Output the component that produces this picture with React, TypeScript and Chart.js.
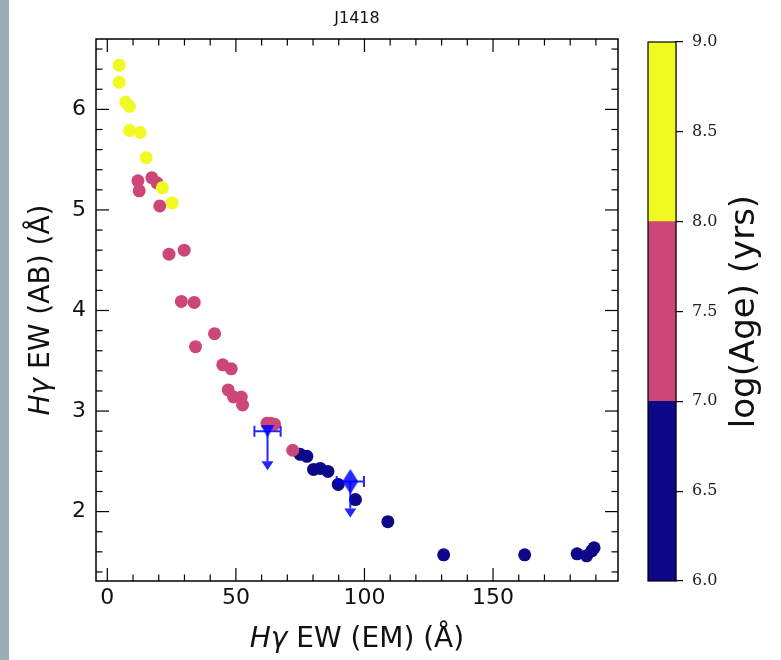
import React, { useEffect, useRef } from "react";
import { Chart, registerables } from "chart.js";

Chart.register(...registerables);

// ---------------- data ----------------
const TITLE = "J1418";
const X_TICKS = [0, 50, 100, 150];
const Y_TICKS = [2, 3, 4, 5, 6];
const X_MIN = -4.4;
const X_MAX = 198.6;
const Y_MIN = 1.31;
const Y_MAX = 6.7;
const X_MINOR_STEP = 10;
const Y_MINOR_STEP = 0.2;

const CB_TICKS = [6.0, 6.5, 7.0, 7.5, 8.0, 8.5, 9.0];
const CB_BOUNDS = [6, 7, 8, 9];
const CB_COLORS = ["#0d0887", "#cc4778", "#f0f921"];
const CB_LABEL = "log(Age) (yrs)";

// log(Age) 6-7
const youngX = [75.0, 77.6, 80.2, 82.8, 85.8, 89.8, 96.5, 109.1, 130.8, 162.3, 182.7, 186.4, 188.4, 189.3];
const youngY = [2.57, 2.55, 2.42, 2.43, 2.40, 2.27, 2.12, 1.90, 1.57, 1.57, 1.58, 1.56, 1.61, 1.64];
// log(Age) 7-8
const midX = [11.9, 12.4, 17.3, 19.3, 20.4, 24.0, 29.9, 28.8, 33.8, 41.7, 34.3, 44.9, 48.2, 47.0, 49.1, 52.1, 52.6, 62.1, 63.5, 65.0, 72.1];
const midY = [5.29, 5.19, 5.32, 5.27, 5.04, 4.56, 4.60, 4.09, 4.08, 3.77, 3.64, 3.46, 3.42, 3.21, 3.14, 3.14, 3.06, 2.88, 2.88, 2.87, 2.61];
// log(Age) 8-9
const oldX = [4.6, 4.6, 7.2, 8.6, 8.7, 12.8, 15.1, 21.4, 25.2];
const oldY = [6.44, 6.27, 6.07, 6.03, 5.79, 5.77, 5.52, 5.22, 5.07];

// observed upper limits (triangle-down, thin diamond)
const limX = [62.3, 94.5];
const limY = [2.80, 2.30];
const limXErr = [5.1, 5.3];
const limYErr = [0.30, 0.27];

const X_TITLE = [
  { text: "Hγ", italic: true },
  { text: " EW (EM) (Å)", italic: false },
];
const Y_TITLE = [
  { text: "Hγ", italic: true },
  { text: " EW (AB) (Å)", italic: false },
];

// ---------------- styles ----------------
const BLUE = "rgba(0,0,255,0.85)";
const TEXT = "#111";
const SANS = "'DejaVu Sans', sans-serif";
const SERIF = "'DejaVu Serif', serif";

function pts(xs: number[], ys: number[]) {
  return xs.map((x, i) => ({ x, y: ys[i] }));
}

function drawRich(ctx: CanvasRenderingContext2D, parts: { text: string; italic: boolean }[], cx: number, cy: number, size: number, rot: number) {
  ctx.save();
  ctx.translate(cx, cy);
  ctx.rotate(rot);
  ctx.textBaseline = "middle";
  ctx.textAlign = "left";
  ctx.fillStyle = TEXT;
  const fonts = parts.map((p) => `${p.italic ? "italic " : ""}${size}px ${SANS}`);
  let total = 0;
  const widths = parts.map((p, i) => {
    ctx.font = fonts[i];
    const w = ctx.measureText(p.text).width;
    total += w;
    return w;
  });
  let x = -total / 2;
  parts.forEach((p, i) => {
    ctx.font = fonts[i];
    ctx.fillText(p.text, x, 0);
    x += widths[i];
  });
  ctx.restore();
}

function makeThinDiamond(): HTMLCanvasElement {
  const c = document.createElement("canvas");
  c.width = 16;
  c.height = 25;
  const g = c.getContext("2d")!;
  g.fillStyle = BLUE;
  g.beginPath();
  g.moveTo(8, 0);
  g.lineTo(16, 12.5);
  g.lineTo(8, 25);
  g.lineTo(0, 12.5);
  g.closePath();
  g.fill();
  return c;
}

function makeTriangleDown(): HTMLCanvasElement {
  const c = document.createElement("canvas");
  c.width = 14;
  c.height = 13;
  const g = c.getContext("2d")!;
  g.fillStyle = BLUE;
  g.beginPath();
  g.moveTo(0, 0);
  g.lineTo(14, 0);
  g.lineTo(7, 13);
  g.closePath();
  g.fill();
  return c;
}

const framePlugin = {
  id: "frameTicks",
  afterDraw(chart: any) {
    const { ctx, chartArea: a, scales } = chart;
    const x = scales.x;
    const y = scales.y;
    ctx.save();
    ctx.strokeStyle = "#000";
    ctx.lineWidth = 1.2;
    const seg = (x1: number, y1: number, x2: number, y2: number) => {
      ctx.beginPath();
      ctx.moveTo(x1, y1);
      ctx.lineTo(x2, y2);
      ctx.stroke();
    };
    const kx0 = Math.ceil(X_MIN / X_MINOR_STEP);
    const kx1 = Math.floor(X_MAX / X_MINOR_STEP);
    for (let k = kx0; k <= kx1; k++) {
      const v = k * X_MINOR_STEP;
      const px = x.getPixelForValue(v);
      const len = X_TICKS.includes(v) ? 13 : 6.5;
      seg(px, a.bottom, px, a.bottom - len);
      seg(px, a.top, px, a.top + len);
    }
    const ky0 = Math.ceil(Y_MIN / Y_MINOR_STEP - 1e-9);
    const ky1 = Math.floor(Y_MAX / Y_MINOR_STEP + 1e-9);
    for (let k = ky0; k <= ky1; k++) {
      const v = Math.round(k * Y_MINOR_STEP * 1000) / 1000;
      const py = y.getPixelForValue(v);
      const len = Y_TICKS.includes(v) ? 13 : 6.5;
      seg(a.left, py, a.left + len, py);
      seg(a.right, py, a.right - len, py);
    }
    ctx.lineWidth = 1.5;
    ctx.strokeRect(a.left, a.top, a.right - a.left, a.bottom - a.top);
    ctx.restore();

    drawRich(ctx, X_TITLE, (a.left + a.right) / 2, 640, 28, 0);
    drawRich(ctx, Y_TITLE, 42, (a.top + a.bottom) / 2, 28, -Math.PI / 2);
  },
};

let errDrawn = false;
const errorBarPlugin = {
  id: "limitErrorBars",
  beforeDraw() {
    errDrawn = false;
  },
  beforeDatasetDraw(chart: any, args: any) {
    const ds = chart.data.datasets[args.index];
    if (errDrawn || !ds.isLimit) return;
    errDrawn = true;
    const { ctx, scales } = chart;
    const x = scales.x;
    const y = scales.y;
    ctx.save();
    ctx.strokeStyle = BLUE;
    ctx.fillStyle = BLUE;
    ctx.lineWidth = 2;
    limX.forEach((vx, i) => {
      const px = x.getPixelForValue(vx);
      const py = y.getPixelForValue(limY[i]);
      const pl = x.getPixelForValue(vx - limXErr[i]);
      const pr = x.getPixelForValue(vx + limXErr[i]);
      const pb = y.getPixelForValue(limY[i] - limYErr[i]);
      ctx.beginPath();
      ctx.moveTo(pl, py);
      ctx.lineTo(pr, py);
      ctx.moveTo(pl, py - 5.5);
      ctx.lineTo(pl, py + 5.5);
      ctx.moveTo(pr, py - 5.5);
      ctx.lineTo(pr, py + 5.5);
      ctx.moveTo(px, py);
      ctx.lineTo(px, pb);
      ctx.stroke();
      ctx.beginPath();
      ctx.moveTo(px - 6, pb);
      ctx.lineTo(px + 6, pb);
      ctx.lineTo(px, pb + 9);
      ctx.closePath();
      ctx.fill();
    });
    ctx.restore();
  },
};

const colorbarPlugin = {
  id: "cbFrame",
  afterDraw(chart: any) {
    const { ctx, chartArea: a } = chart;
    ctx.save();
    ctx.strokeStyle = "#000";
    ctx.lineWidth = 1.2;
    ctx.strokeRect(a.left, a.top, a.right - a.left, a.bottom - a.top);
    ctx.restore();
    ctx.save();
    ctx.translate(105, (a.top + a.bottom) / 2);
    ctx.rotate(-Math.PI / 2);
    ctx.font = `34px ${SANS}`;
    ctx.fillStyle = TEXT;
    ctx.textAlign = "center";
    ctx.textBaseline = "middle";
    ctx.fillText(CB_LABEL, 0, 0);
    ctx.restore();
  },
};

export default function App() {
  const mainRef = useRef<HTMLCanvasElement>(null);
  const cbRef = useRef<HTMLCanvasElement>(null);

  useEffect(() => {
    const diamond = makeThinDiamond();
    const tri = makeTriangleDown();
    const tickFont = { family: SANS, size: 22 };
    const main = new Chart(mainRef.current!, {
      type: "scatter",
      data: {
        datasets: [
          {
            label: "limit v",
            isLimit: true,
            data: [{ x: limX[0], y: limY[0] }],
            pointStyle: tri,
            backgroundColor: BLUE,
            borderWidth: 0,
            order: 0,
          } as any,
          {
            label: "limit d",
            isLimit: true,
            data: [{ x: limX[1], y: limY[1] }],
            pointStyle: diamond,
            backgroundColor: BLUE,
            borderWidth: 0,
            order: 0,
          } as any,
          {
            label: "8-9",
            data: pts(oldX, oldY),
            pointRadius: 6.5,
            backgroundColor: CB_COLORS[2],
            borderWidth: 0,
            order: 1,
          },
          {
            label: "7-8",
            data: pts(midX, midY),
            pointRadius: 6.5,
            backgroundColor: CB_COLORS[1],
            borderWidth: 0,
            order: 2,
          },
          {
            label: "6-7",
            data: pts(youngX, youngY),
            pointRadius: 6.5,
            backgroundColor: CB_COLORS[0],
            borderWidth: 0,
            order: 3,
          },
        ],
      },
      options: {
        animation: false,
        responsive: false,
        maintainAspectRatio: false,
        events: [],
        layout: { padding: { left: 0, right: 22, top: 0, bottom: 0 } },
        plugins: {
          legend: { display: false },
          tooltip: { enabled: false },
          title: {
            display: true,
            text: TITLE,
            fullSize: false,
            color: TEXT,
            font: { family: SANS, size: 16, weight: "normal" },
            padding: { top: 9, bottom: 10.8 },
          },
        },
        scales: {
          x: {
            type: "linear",
            min: X_MIN,
            max: X_MAX,
            afterBuildTicks: (s: any) => {
              s.ticks = X_TICKS.map((v) => ({ value: v }));
            },
            afterFit: (s: any) => {
              s.height = 79;
            },
            grid: { display: false, drawTicks: false },
            border: { display: false },
            ticks: { font: tickFont, color: TEXT, padding: 4, autoSkip: false, maxRotation: 0 },
          },
          y: {
            type: "linear",
            min: Y_MIN,
            max: Y_MAX,
            afterBuildTicks: (s: any) => {
              s.ticks = Y_TICKS.map((v) => ({ value: v }));
            },
            afterFit: (s: any) => {
              s.width = 96;
            },
            grid: { display: false, drawTicks: false },
            border: { display: false },
            ticks: { font: tickFont, color: TEXT, padding: 10, autoSkip: false },
          },
        },
      } as any,
      plugins: [errorBarPlugin, framePlugin],
    });

    const cb = new Chart(cbRef.current!, {
      type: "bar",
      data: {
        labels: [""],
        datasets: CB_COLORS.map((c, i) => ({
          label: `${CB_BOUNDS[i]}-${CB_BOUNDS[i + 1]}`,
          data: [[CB_BOUNDS[i], CB_BOUNDS[i + 1]]],
          backgroundColor: c,
          borderWidth: 0,
          grouped: false,
          barPercentage: 1,
          categoryPercentage: 1,
        })) as any,
      },
      options: {
        animation: false,
        responsive: false,
        maintainAspectRatio: false,
        events: [],
        layout: { padding: { left: 8, right: 0, top: 42, bottom: 79 } },
        plugins: { legend: { display: false }, tooltip: { enabled: false }, title: { display: false } },
        scales: {
          x: { display: false },
          y: {
            position: "right",
            min: CB_BOUNDS[0],
            max: CB_BOUNDS[CB_BOUNDS.length - 1],
            afterBuildTicks: (s: any) => {
              s.ticks = CB_TICKS.map((v) => ({ value: v }));
            },
            afterFit: (s: any) => {
              s.width = 105;
            },
            grid: { drawOnChartArea: false, drawTicks: true, tickLength: 7, color: "#000", lineWidth: 1.2 },
            border: { display: true, color: "#000", width: 1.2 },
            ticks: {
              font: { family: SERIF, size: 16 },
              color: "#222",
              padding: 9,
              autoSkip: false,
              callback: (v: any) => Number(v).toFixed(1),
            },
          },
        },
      } as any,
      plugins: [colorbarPlugin],
    });

    return () => {
      main.destroy();
      cb.destroy();
    };
  }, []);

  return (
    <div style={{ position: "absolute", left: 0, top: 0, width: 781, height: 660, background: "#fff", overflow: "hidden" }}>
      <div style={{ position: "absolute", left: 0, top: 0, width: 9, height: 660, background: "#9badb5" }} />
      <canvas ref={mainRef} width={640} height={660} style={{ position: "absolute", left: 0, top: 0, width: 640, height: 660 }} />
      <canvas ref={cbRef} width={141} height={660} style={{ position: "absolute", left: 640, top: 0, width: 141, height: 660 }} />
    </div>
  );
}
